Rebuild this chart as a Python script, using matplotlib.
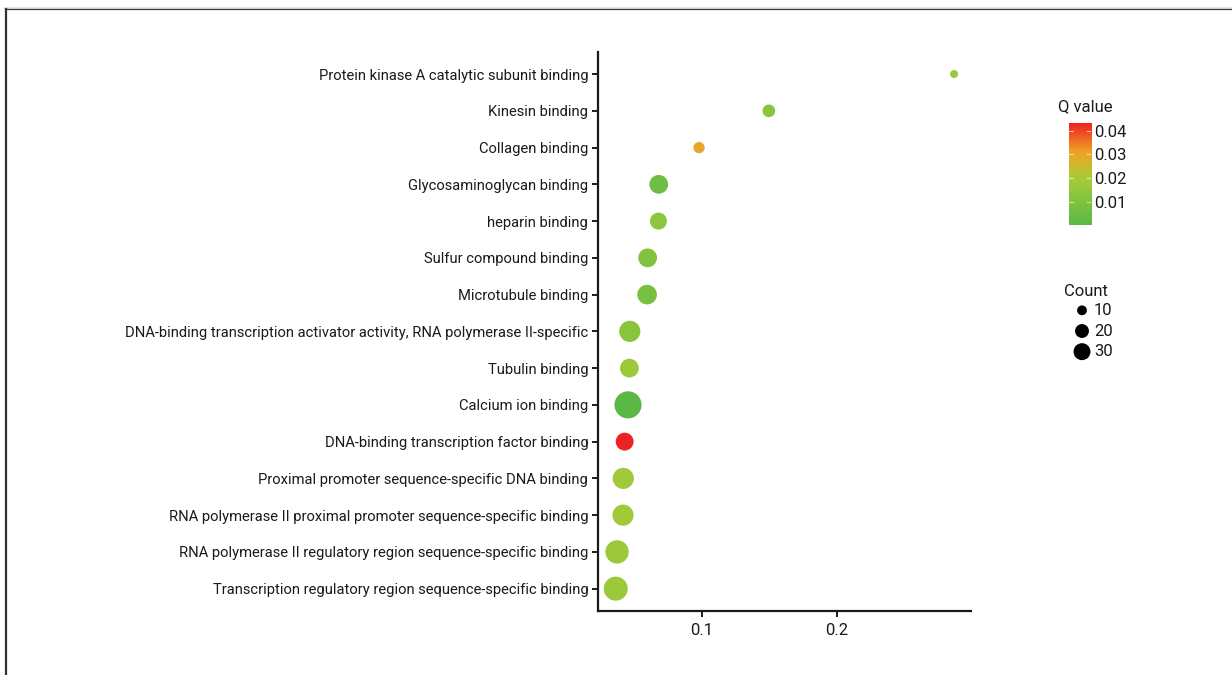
import numpy as np
import matplotlib
matplotlib.use("Agg")
import matplotlib.pyplot as plt
from matplotlib.colors import LinearSegmentedColormap, Normalize
from matplotlib.lines import Line2D

plt.rcParams['font.family'] = ['Roboto', 'DejaVu Sans']

# GO molecular function terms, top row first
terms = [
    "Protein kinase A catalytic subunit binding",
    "Kinesin binding",
    "Collagen binding",
    "Glycosaminoglycan binding",
    "heparin binding",
    "Sulfur compound binding",
    "Microtubule binding",
    "DNA-binding transcription activator activity, RNA polymerase II-specific",
    "Tubulin binding",
    "Calcium ion binding",
    "DNA-binding transcription factor binding",
    "Proximal promoter sequence-specific DNA binding",
    "RNA polymerase II proximal promoter sequence-specific binding",
    "RNA polymerase II regulatory region sequence-specific binding",
    "Transcription regulatory region sequence-specific binding",
]
rich_factor = [0.2865, 0.1496, 0.098, 0.0682, 0.068, 0.060, 0.0596,
               0.0468, 0.0465, 0.0455, 0.043, 0.042, 0.0418, 0.0374, 0.0364]
q_value = [0.017, 0.012, 0.030, 0.005, 0.013, 0.010, 0.008,
           0.012, 0.017, 0.0002, 0.0433, 0.018, 0.018, 0.017, 0.017]
count = [2, 5, 4, 11, 9, 11, 12, 14, 11, 23, 10, 14, 14, 17, 18]

x_ticks = [0.1, 0.2]
cbar_ticks = [0.01, 0.02, 0.03, 0.04]
legend_counts = [10, 20, 30]

cmap = LinearSegmentedColormap.from_list(
    "qv", [(0.0, "#5ab946"), (0.45, "#a6cc38"), (0.6, "#d2b62e"),
           (0.72, "#f0a126"), (1.0, "#ec2224")])
norm = Normalize(min(q_value), max(q_value))

FS = 12
TXT = "#1a1a1a"


def dot_area(c, k=5.66):
    # diameter in px grows with sqrt(count); scatter wants pt^2
    d = k * np.sqrt(c) * 0.72
    return d ** 2


fig = plt.figure(figsize=(12.32, 6.75), dpi=100)

# page frame lines (top and left)
fig.add_artist(Line2D([6 / 1232, 1], [1 - 9 / 675] * 2, color="#333333", lw=1.6))
fig.add_artist(Line2D([6 / 1232, 1], [1 - 7.5 / 675] * 2, color="#cccccc", lw=0.8))
fig.add_artist(Line2D([6 / 1232] * 2, [0, 1 - 9 / 675], color="#333333", lw=1.6))

ax = fig.add_axes([598 / 1232, 1 - 610.7 / 675, (971 - 598) / 1232, (610.7 - 52) / 675])
y = np.arange(len(terms))[::-1]
ax.scatter(rich_factor, y, s=dot_area(np.array(count)), c=q_value, cmap=cmap, norm=norm,
           edgecolors="none", zorder=3)
ax.set_xlim(0.0233, 0.299)
ax.set_ylim(-0.6, len(terms) - 0.4)
ax.set_yticks(y)
ax.set_yticklabels(terms, fontsize=FS, color=TXT)
ax.set_xticks(x_ticks)
ax.set_xticklabels([str(t) for t in x_ticks], fontsize=FS, color=TXT)
for side in ("top", "right"):
    ax.spines[side].set_visible(False)
for side in ("left", "bottom"):
    ax.spines[side].set_linewidth(1.6)
    ax.spines[side].set_color(TXT)
ax.tick_params(axis="both", length=4, width=1.4, color=TXT, pad=3)
ax.tick_params(axis="x", pad=5)

# shrink the term labels until the longest fits left of the axis
fig.canvas.draw()
renderer = fig.canvas.get_renderer()
widest = max(t.get_window_extent(renderer).width for t in ax.get_yticklabels())
if widest > 464:
    for t in ax.get_yticklabels():
        t.set_fontsize(FS * 464 / widest)

# colour bar for Q value
cax = fig.add_axes([1069 / 1232, 1 - 225 / 675, 22 / 1232, 102 / 675])
grad = np.linspace(norm.vmin, norm.vmax, 200).reshape(-1, 1)
cax.imshow(grad, aspect="auto", origin="lower", cmap=cmap, norm=norm,
           extent=[0, 1, norm.vmin, norm.vmax])
cax.set_xlim(0, 1)
cax.set_ylim(norm.vmin, norm.vmax)
cax.set_xticks([])
cax.set_yticks(cbar_ticks)
cax.yaxis.tick_right()
cax.set_yticklabels([f"{t:.2f}" for t in cbar_ticks], fontsize=FS, color=TXT)
cax.tick_params(axis="y", length=0, pad=2)
for t in cbar_ticks:
    cax.plot([0, 0.2], [t, t], color="white", lw=0.8, alpha=0.6)
    cax.plot([0.8, 1], [t, t], color="white", lw=0.8, alpha=0.6)
for s in cax.spines.values():
    s.set_visible(False)
fig.text(1058 / 1232, 1 - 107 / 675, "Q value", fontsize=FS, color=TXT, va="center")

# size key for Count
fig.text(1064 / 1232, 1 - 291 / 675, "Count", fontsize=FS, color=TXT, va="center")
kax = fig.add_axes([1072 / 1232, 1 - 362 / 675, 60 / 1232, 62 / 675])
key_y = np.arange(len(legend_counts))[::-1]
kax.scatter([0] * len(legend_counts), key_y, s=dot_area(np.array(legend_counts), k=3.1),
            color="black", edgecolors="none")
for c, yy in zip(legend_counts, key_y):
    kax.text(1.2, yy, str(c), fontsize=FS, color=TXT, va="center", ha="left")
kax.set_xlim(-1, 5)
kax.set_ylim(-0.5, 2.5)
kax.axis("off")

fig.savefig("out.png", dpi=100)
